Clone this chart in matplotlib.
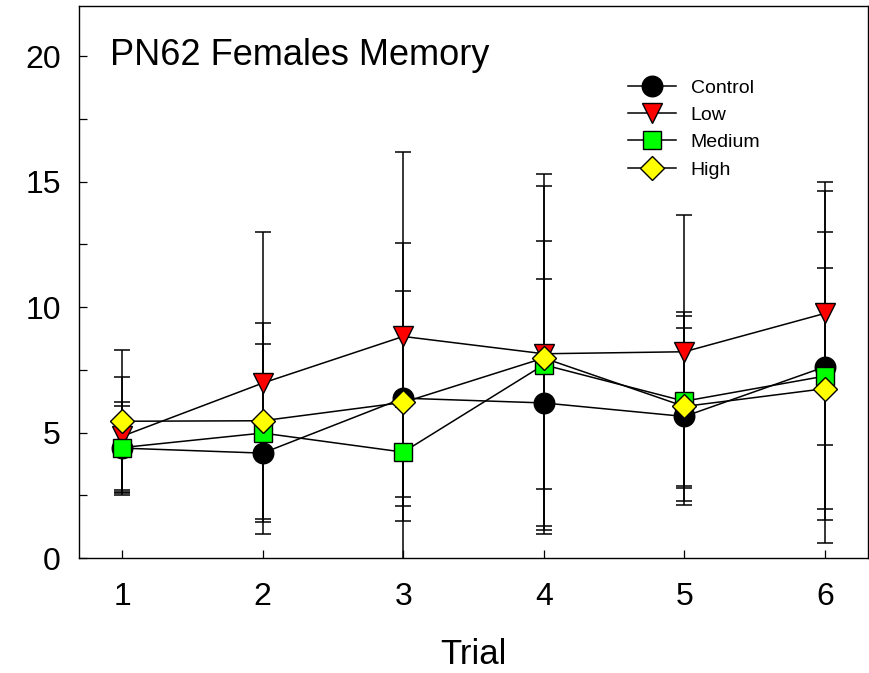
import matplotlib.pyplot as plt
from matplotlib.ticker import FixedLocator

plt.rcParams['font.family'] = ['Liberation Sans', 'DejaVu Sans']

trials = [1, 2, 3, 4, 5, 6]
groups = ["Control", "Low", "Medium", "High"]

# group means per trial
control = [4.38, 4.18, 6.37, 6.18, 5.64, 7.62]
low = [4.85, 6.97, 8.83, 8.14, 8.22, 9.75]
medium = [4.40, 4.98, 4.22, 7.70, 6.25, 7.25]
high = [5.45, 5.47, 6.20, 7.97, 6.04, 6.75]

# error bar half-lengths
control_err = [1.68, 0.25, 4.29, 4.92, 3.53, 7.02]
low_err = [2.35, 6.03, 7.37, 7.18, 5.45, 5.25]
medium_err = [1.81, 3.56, 1.79, 4.95, 3.38, 5.75]
high_err = [2.83, 3.90, 6.37, 6.85, 3.75, 4.79]

means = [control, low, medium, high]
errs = [control_err, low_err, medium_err, high_err]
markers = ['o', 'v', 's', 'D']
sizes = [14.8, 14.3, 12.5, 11.8]
colors = ['black', '#ff0000', '#00ff00', '#ffff00']

fig = plt.figure(figsize=(8.69, 6.73), dpi=100)
ax = fig.add_axes([79/869, 1 - 558/673, 789/869, 552/673])

handles = []
for i in range(4):
    ax.errorbar(trials, means[i], yerr=errs[i], fmt='none', ecolor='black',
                elinewidth=1.1, capsize=6, capthick=1.1, zorder=2 + i * 0.1)
for i in range(4):
    h, = ax.plot(trials, means[i], color='black', lw=1.1, marker=markers[i],
                 markersize=sizes[i], markerfacecolor=colors[i],
                 markeredgecolor='black', markeredgewidth=1.0, zorder=3 + i,
                 label=groups[i], clip_on=False)
    handles.append(h)

ax.set_xlim(0.694, 6.306)
ax.set_ylim(0, 22)
ax.xaxis.set_major_locator(FixedLocator(trials))
ax.yaxis.set_major_locator(FixedLocator([0, 5, 10, 15, 20]))
ax.yaxis.set_minor_locator(FixedLocator([2.5, 7.5, 12.5, 17.5]))
ax.tick_params(axis='both', which='both', direction='in', length=5.8,
               width=0.9, labelsize=23)
ax.tick_params(axis='y', pad=13)
ax.tick_params(axis='x', pad=17)
for s in ax.spines.values():
    s.set_linewidth(1.0)

ax.set_xlabel("Trial", fontsize=25, labelpad=19)

ax.text(0.039, 0.893, "PN62 Females Memory", transform=ax.transAxes,
        fontsize=26, va='baseline', ha='left')

ax.legend(handles=handles, loc='upper left', frameon=False, fontsize=14,
          bbox_to_anchor=(628/869, 1 - 79/673), bbox_transform=fig.transFigure,
          borderpad=0, borderaxespad=0, handlelength=2.47, handletextpad=0.75,
          labelspacing=0.5, numpoints=1)

fig.savefig("out.png", dpi=100)
